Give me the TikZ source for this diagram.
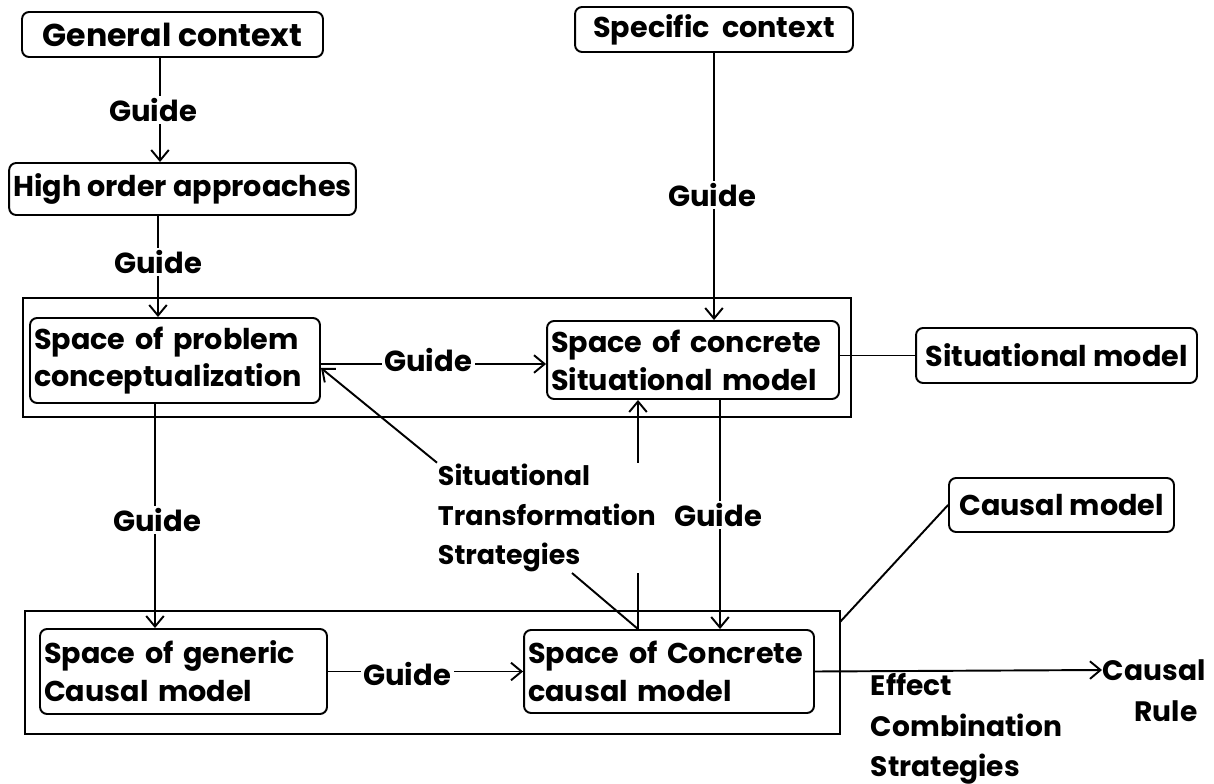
\documentclass[tikz,border=0pt]{standalone}
\usepackage{fontspec}
\setmainfont{Poppins}
\usetikzlibrary{arrows.meta}
\begin{document}
\begin{tikzpicture}[x=0.02cm,y=-0.02cm, line width=1.1pt,
  txt/.style={font=\fontsize{16.3}{21.5}\selectfont\bfseries},
  free/.style={font=\fontsize{15.3}{22.7}\selectfont\bfseries, inner sep=0pt},
  box/.style={draw, rounded corners=4pt, txt, inner xsep=0.08cm, inner ysep=0pt},
  two/.style={align=left, text width=#1},
  frame/.style={draw, inner sep=0pt},
  lbl/.style={font=\fontsize{16.5}{20}\selectfont\bfseries, fill=white, inner sep=1.5pt},
  arr/.style={-{Straight Barb[length=6pt,width=10pt]}}
]
\useasboundingbox (0,0) rectangle (1214,784);

% frames
\node[frame, minimum width=16.56cm, minimum height=2.38cm] (o1) at (437,357.5) {};
\node[frame, minimum width=16.3cm, minimum height=2.46cm] (o2) at (432.5,672.5) {};

% boxes
\node[box, minimum width=6.02cm, minimum height=0.9cm, font=\fontsize{18}{22}\selectfont\bfseries] (gen) at (172.5,34.5) {General context};
\node[box, minimum width=6.9cm, minimum height=1.04cm] (hoa) at (182.5,189) {High order approaches};
\node[box, minimum width=5.56cm, minimum height=0.9cm] (spc) at (714,29.5) {Specific\ \ context};
\node[box, two=5.64cm, minimum width=5.8cm, minimum height=1.7cm] (prob) at (175,360.5) {Space of problem\\conceptualization};
\node[box, two=5.68cm, minimum width=5.84cm, minimum height=1.56cm] (csit) at (693,360) {Space of concrete\\Situational model};
\node[box, minimum width=5.62cm, minimum height=1.1cm] (sitm) at (1056.5,355.5) {Situational model};
\node[box, minimum width=4.5cm, minimum height=1.08cm] (caus) at (1061.5,505) {Causal model};
\node[box, two=5.58cm, minimum width=5.74cm, minimum height=1.7cm] (gen2) at (183.5,671.5) {Space of generic\\Causal model};
\node[box, two=5.64cm, minimum width=5.8cm, minimum height=1.66cm] (ccaus) at (669,671.5) {Space of Concrete\\causal model};

% free texts
\node[free, align=left, anchor=west] (sts) at (437,518) {Situational\\Transformation\\Strategies};
\node[free, font=\fontsize{16}{23}\selectfont\bfseries, align=left, anchor=west] (ecs) at (870,729) {Effect\\Combination\\Strategies};
\node[free, font=\fontsize{16}{23}\selectfont\bfseries, anchor=west] (crc) at (1102,670) {Causal};
\node[free, font=\fontsize{16}{23}\selectfont\bfseries] (crr) at (1166,711) {Rule};

% helper coordinates
\coordinate (xa) at (160,0);
\coordinate (xb) at (158,0);
\coordinate (xc) at (155,0);
\coordinate (xd) at (720,0);
\coordinate (xe) at (638,0);
\coordinate (ya) at (0,364);
\coordinate (pe) at (321,368);
\coordinate (s2) at (572,573);
\coordinate (c2) at (840,622);

% connectors
\draw[arr] (gen.south -| xa) -- (hoa.north -| xa);
\node[lbl] (g1) at (153,110) {Guide};
\draw[arr] (hoa.south -| xb) -- (prob.north -| xb);
\node[lbl] (g2) at (158,262) {Guide};
\draw[arr] (spc.south) -- (spc.south |- csit.north);
\node[lbl] (g3) at (712,195) {Guide};
\draw[arr] (prob.east |- ya) -- (csit.west |- ya);
\node[lbl] (g4) at (428,360) {Guide};
\draw[arr] (prob.south -| xc) -- (gen2.north -| xc);
\node[lbl] (g5) at (157,520) {Guide};
\draw[arr] (csit.south -| xd) -- (ccaus.north -| xd);
\node[lbl] (g6) at (718,515) {Guide};
\draw[arr] (gen2.east) -- (ccaus.west);
\node[lbl] (g7) at (407,674) {Guide};

\draw[arr] (sts.north west) -- (pe);
\draw[arr] (sts.north -| xe) -- (csit.south -| xe);
\draw (sts.south -| xe) -- (ccaus.north -| xe);
\draw (s2) -- (ccaus.north -| xe);
\draw (csit.east |- sitm.west) -- (sitm.west);
\draw (caus.west) -- (c2);
\draw[arr] (ccaus.east) -- (crc.west);
\end{tikzpicture}
\end{document}
